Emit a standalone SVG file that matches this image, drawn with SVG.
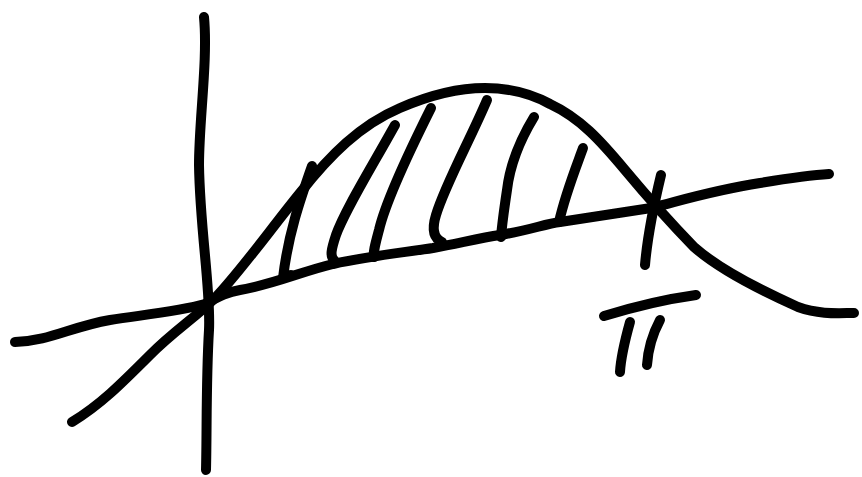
<svg xmlns="http://www.w3.org/2000/svg" width="862" height="477" viewBox="0 0 862 477">
<style>
.s{fill:none;stroke:#000;stroke-width:10;stroke-linecap:round;stroke-linejoin:round}
.h{fill:none;stroke:#000;stroke-width:10;stroke-linecap:round;stroke-linejoin:round}
</style>
<rect width="862" height="477" fill="#fff"/>
<g id="axis-y"><path class="s" d="M204,17 C208,60 199,120 199,165 C200,230 211,290 209,330 C206,380 207,430 206,470"/></g>
<g id="line"><path class="s" d="M15,342 C50,341 70,327 110,320 C150,314 180,311 205,304 C220,296 228,292 240,290 C275,284 300,272 333,264 C370,256 400,253 433,248 C460,243 480,238 500,235 C530,230 545,224 560,222 C600,216 625,212 651,208 C690,198 715,190 760,183 C790,178 810,175 829,174"/></g>
<g id="curve"><path class="s" d="M72,422 C100,405 120,385 150,355 C175,330 195,318 215,298 C240,272 270,230 300,193 C330,155 360,125 400,108 C430,95 460,88 485,88 C510,88 530,93 550,104 C580,118 600,140 625,170 C640,188 660,212 694,247 C720,270 760,290 798,307 C820,315 840,313 854,313"/></g>
<g id="hatching">
<path class="h" d="M312,166 C300,200 288,235 283,278 L291,275"/>
<path class="h" d="M395,125 C370,170 345,210 336,235 C331,250 330,256 334,260"/>
<path class="h" d="M431,108 C410,150 386,200 379,230 C375,245 373,252 374,257"/>
<path class="h" d="M487,100 C470,140 445,185 436,215 C432,228 433,238 442,242"/>
<path class="h" d="M534,117 C520,140 510,165 507,190 C504,210 502,225 501,237"/>
<path class="h" d="M583,148 C575,170 565,195 559,222"/>
</g>
<g id="tick-pi"><path class="s" d="M661,175 C655,200 648,230 645,265"/></g>
<g id="label-pi">
<path class="s" d="M604,316 C630,308 660,300 696,295"/>
<path class="s" d="M630,322 C625,340 621,355 620,372"/>
<path class="s" d="M660,320 C652,335 648,350 647,365"/>
</g>
</svg>
